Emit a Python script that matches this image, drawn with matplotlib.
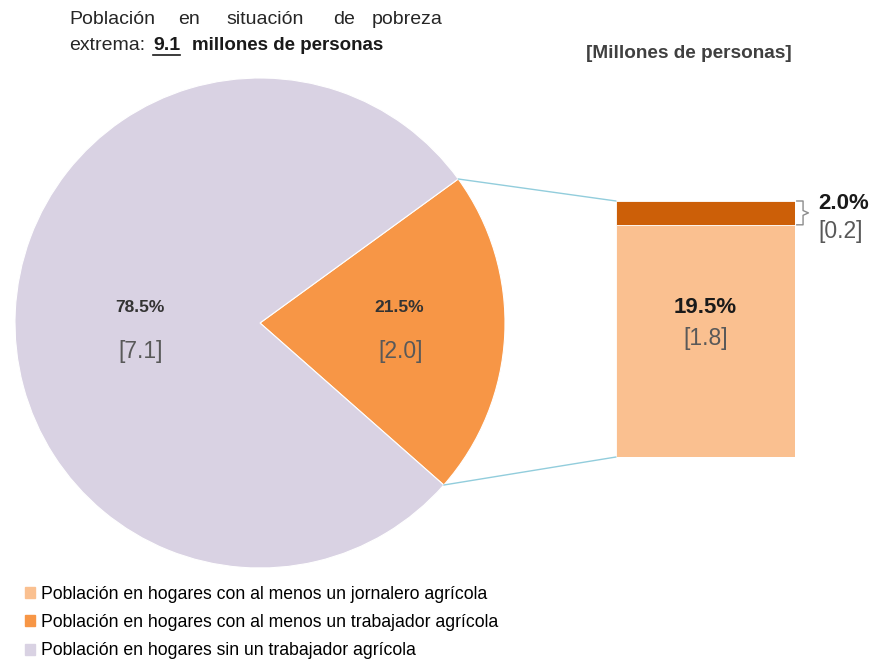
import matplotlib
matplotlib.use('Agg')
import matplotlib.pyplot as plt
from matplotlib.patches import Patch, ConnectionPatch
from matplotlib.lines import Line2D
import numpy as np

plt.rcParams['font.family'] = ['Liberation Sans', 'DejaVu Sans']

# data (millones de personas / porcentaje)
pie_labels = ['Con trabajador agrícola', 'Sin trabajador agrícola']
pie_pct = [21.5, 78.5]
pie_mill = [2.0, 7.1]
bar_labels = ['Jornalero agrícola', 'Otro trabajador agrícola']
bar_pct = [19.5, 2.0]
bar_mill = [1.8, 0.2]
legend_labels = ['Población en hogares con al menos un jornalero agrícola',
                 'Población en hogares con al menos un trabajador agrícola',
                 'Población en hogares sin un trabajador agrícola']

c_purple = '#D9D2E3'
c_orange = '#F79646'
c_light = '#FAC090'
c_dark = '#CC5F08'
c_line = '#92CDDC'

W, H = 878, 662
fig = plt.figure(figsize=(W / 100, H / 100), dpi=100)


def px(x, y):
    return (x / W, 1 - y / H)


# pie
ax = fig.add_axes([15 / W, 94 / H, 490 / W, 490 / H])
wedges, _ = ax.pie(pie_pct, colors=[c_orange, c_purple], startangle=-41.4,
                   counterclock=True,
                   wedgeprops=dict(edgecolor='white', linewidth=0.8))
ax.set_xlim(-1, 1)
ax.set_ylim(-1, 1)
ax.set_aspect('equal')

for w, p, m, r in zip(wedges, pie_pct, pie_mill, [0.57, 0.49]):
    ang = np.deg2rad((w.theta1 + w.theta2) / 2)
    x = r * np.cos(ang)
    ax.annotate(f'{p:.1f}%', (x, 0), xytext=(0, 11.5), textcoords='offset points',
                ha='center', va='center', fontsize=12.5, fontweight='bold', color='#333333')
    ax.annotate(f'[{m:.1f}]', (x, 0), xytext=(0.5, -20.5), textcoords='offset points',
                ha='center', va='center', fontsize=16.5, color='#595959')

# stacked bar
bx = fig.add_axes([616 / W, 205 / H, 179 / W, 256 / H])
bottom = 0
bar_colors = [c_light, c_dark]
for v, c in zip(bar_pct, bar_colors):
    bx.bar(0.5, v, width=1, bottom=bottom, color=c, edgecolor='white', linewidth=0.6)
    bottom += v
bx.set_xlim(0, 1)
bx.set_ylim(0, sum(bar_pct))
bx.axis('off')

bx.text(0.5, bar_pct[0] * 0.645, f'{bar_pct[0]:.1f}%', ha='center', va='center',
        fontsize=16, fontweight='bold', color='#1a1a1a')
bx.text(0.5, bar_pct[0] * 0.51, f'[{bar_mill[0]:.1f}]', ha='center', va='center',
        fontsize=16.5, color='#595959')

# bracket for the small segment
y0, y1 = bar_pct[0], sum(bar_pct)
ym = (y0 + y1) / 2
bx.plot([1.01, 1.045, 1.045, 1.075, 1.045, 1.045, 1.01],
        [y1, y1, ym + 0.2, ym, ym - 0.2, y0, y0],
        color='#8c8c8c', lw=1, clip_on=False)
bx.text(1.13, y1 - 0.25, f'{bar_pct[1]:.1f}%', ha='left', va='center',
        fontsize=16, fontweight='bold', color='#1a1a1a')
bx.text(1.13, y0 - 0.55, f'[{bar_mill[1]:.1f}]', ha='left', va='center',
        fontsize=16.5, color='#595959')

# connection lines
t_top = np.deg2rad(wedges[0].theta2)
t_bot = np.deg2rad(wedges[0].theta1)
for t, yb in [(t_top, sum(bar_pct)), (t_bot, 0)]:
    con = ConnectionPatch(xyA=(np.cos(t), np.sin(t)), coordsA=ax.transData,
                          xyB=(0, yb), coordsB=bx.transData,
                          color=c_line, lw=1)
    fig.add_artist(con)

# title
words = ['Población', 'en', 'situación', 'de', 'pobreza']
xs = [69, 178, 226, 333, 372]
for wd, x in zip(words, xs):
    fig.text(*px(x, 19), wd, ha='left', va='center', fontsize=14, color='#262626')
fig.text(*px(69, 45), 'extrema:', ha='left', va='center', fontsize=14, color='#262626')
t91 = fig.text(*px(153, 45), '9.1', ha='left', va='center', fontsize=14,
               fontweight='bold', color='#1a1a1a')
fig.text(*px(192, 45), 'millones de personas', ha='left', va='center', fontsize=13.5,
         fontweight='bold', color='#1a1a1a')
fig.canvas.draw()
bb = t91.get_window_extent(fig.canvas.get_renderer())
fig.add_artist(Line2D([bb.x0 / W, bb.x1 / W], [(bb.y0 - 1) / H, (bb.y0 - 1) / H],
                      color='#1a1a1a', lw=1.2))

fig.text(*px(586, 53), '[Millones de personas]', ha='left', va='center',
         fontsize=13.7, fontweight='bold', color='#404040')

# legend
handles = [Patch(color=c) for c in [c_light, c_orange, c_purple]]
fig.legend(handles, legend_labels, loc='upper left', bbox_to_anchor=px(16, 577),
           frameon=False, fontsize=12.7, handlelength=0.6, handleheight=0.6,
           handletextpad=0.3, labelspacing=0.64, borderpad=0)

fig.savefig('out.png', dpi=100)
